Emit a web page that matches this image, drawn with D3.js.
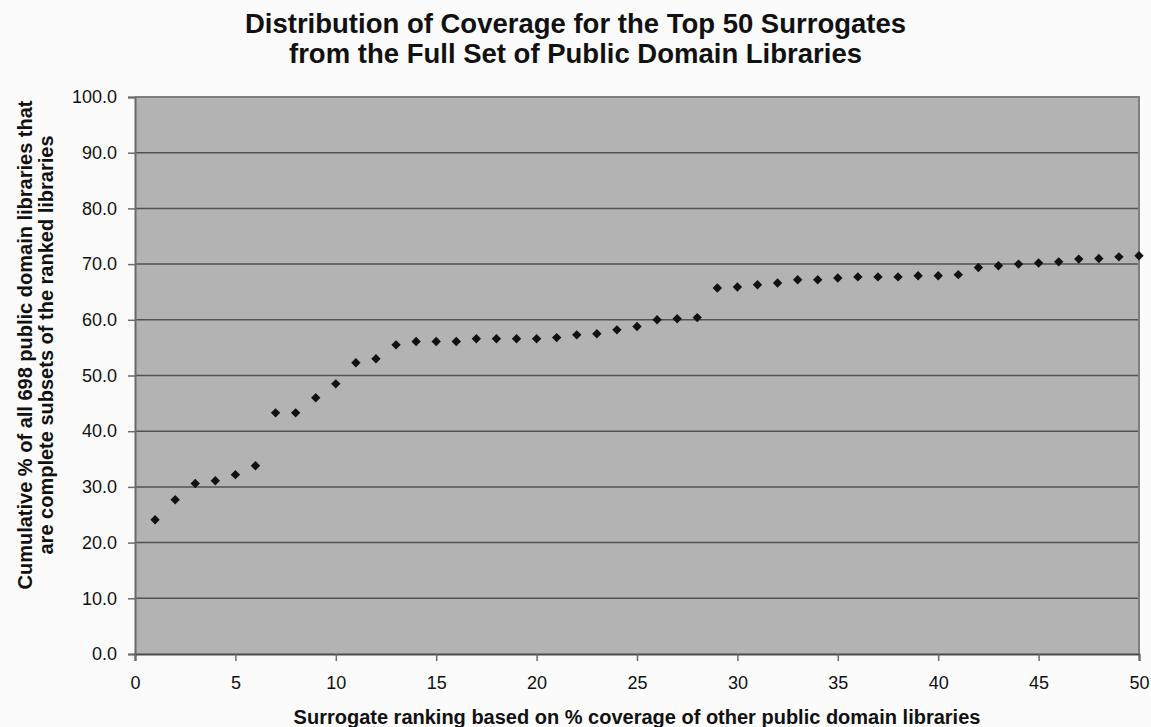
<!DOCTYPE html>
<html>
<head>
<meta charset="utf-8">
<script src="https://cdn.jsdelivr.net/npm/d3@7"></script>
<style>
  html, body { margin: 0; padding: 0; background: #fbfbfb; }
  svg { display: block; font-family: "Liberation Sans", Arial, sans-serif; }
</style>
</head>
<body>
<svg id="chart" width="1151" height="727"></svg>
<script>
// Surrogate rank (1..50) and cumulative coverage (%)
const ranks = d3.range(1, 51);
const coverage = [
  24.1, 27.7, 30.6, 31.1, 32.2, 33.8, 43.3, 43.3, 46.0, 48.5,
  52.3, 53.0, 55.5, 56.1, 56.1, 56.1, 56.6, 56.6, 56.6, 56.6,
  56.8, 57.3, 57.5, 58.2, 58.8, 60.0, 60.2, 60.4, 65.7, 65.9,
  66.3, 66.6, 67.2, 67.2, 67.5, 67.7, 67.7, 67.7, 67.9, 67.9,
  68.1, 69.4, 69.7, 70.0, 70.2, 70.4, 70.9, 71.0, 71.3, 71.5
];
const xTicks = [0, 5, 10, 15, 20, 25, 30, 35, 40, 45, 50];
const yTicks = [0, 10, 20, 30, 40, 50, 60, 70, 80, 90, 100];
const titleLines = [
  "Distribution of Coverage for the Top 50 Surrogates",
  "from the Full Set of Public Domain Libraries"
];
const yTitleLines = [
  "Cumulative % of all 698 public domain libraries that",
  "are complete subsets of the ranked libraries"
];
const xTitle = "Surrogate ranking based on % coverage of other public domain libraries";

const svg = d3.select("#chart");
const margin = { left: 135, right: 12, top: 97, bottom: 73 };
const W = 1151, H = 727;
const plotW = W - margin.left - margin.right;
const plotH = H - margin.top - margin.bottom;

const x = d3.scaleLinear().domain([0, 50]).range([0, plotW]);
const y = d3.scaleLinear().domain([0, 100]).range([plotH, 0]);

const g = svg.append("g").attr("transform", `translate(${margin.left},${margin.top})`);

// plot area
g.append("rect")
  .attr("width", plotW).attr("height", plotH)
  .attr("fill", "#b3b3b3");

// horizontal gridlines
g.append("g").selectAll("line")
  .data(yTicks.filter(t => t > 0 && t < 100))
  .join("line")
  .attr("x1", 0).attr("x2", plotW)
  .attr("y1", d => y(d)).attr("y2", d => y(d))
  .attr("stroke", "#525252").attr("stroke-width", 1.5);

// frame: top and right edges lighter
g.append("path")
  .attr("d", `M0,0H${plotW}V${plotH}`)
  .attr("fill", "none").attr("stroke", "#7f7f7f").attr("stroke-width", 2);

// y axis
const yAxis = g.append("g")
  .call(d3.axisLeft(y).tickValues(yTicks).tickFormat(d3.format(".1f")).tickSize(7).tickPadding(11));
yAxis.select(".domain").attr("stroke", "#6a6a6a").attr("stroke-width", 2);
yAxis.selectAll(".tick line").attr("stroke", "#6a6a6a").attr("stroke-width", 1.5);
yAxis.selectAll(".tick text").attr("font-size", 18).attr("fill", "#111")
  .attr("font-family", "Liberation Sans, Arial, sans-serif");

// x axis
const xAxis = g.append("g")
  .attr("transform", `translate(0,${plotH})`)
  .call(d3.axisBottom(x).tickValues(xTicks).tickSize(7).tickPadding(15));
xAxis.select(".domain").attr("stroke", "#4a4a4a").attr("stroke-width", 2);
xAxis.selectAll(".tick line").attr("stroke", "#6a6a6a").attr("stroke-width", 1.5);
xAxis.selectAll(".tick text").attr("font-size", 18).attr("fill", "#111")
  .attr("font-family", "Liberation Sans, Arial, sans-serif");

// diamond markers
const diamond = d3.symbol().type(d3.symbolSquare).size(44);
g.append("g").selectAll("path")
  .data(ranks.map((r, i) => ({ r, v: coverage[i] })))
  .join("path")
  .attr("d", diamond)
  .attr("transform", d => `translate(${x(d.r)},${y(d.v)}) rotate(45)`)
  .attr("fill", "#111");

// title, centred on the whole chart
const tx = W / 2;
svg.append("text")
  .attr("x", tx).attr("text-anchor", "middle")
  .attr("font-size", 27.5).attr("font-weight", "bold").attr("fill", "#111")
  .selectAll("tspan").data(titleLines).join("tspan")
  .attr("x", tx).attr("y", (d, i) => 33 + i * 30)
  .text(d => d);

// x-axis title, centred on the plot
const cx = margin.left + plotW / 2;
svg.append("text")
  .attr("x", cx).attr("y", 724).attr("text-anchor", "middle")
  .attr("font-size", 20).attr("font-weight", "bold").attr("fill", "#111")
  .text(xTitle);

// y-axis title
const cy = 345;
svg.append("text")
  .attr("transform", `translate(0,${cy}) rotate(-90)`)
  .attr("text-anchor", "middle")
  .attr("font-size", 20).attr("font-weight", "bold").attr("fill", "#111")
  .selectAll("tspan").data(yTitleLines).join("tspan")
  .attr("x", 0).attr("y", (d, i) => 32 + i * 21)
  .text(d => d);
</script>
</body>
</html>
